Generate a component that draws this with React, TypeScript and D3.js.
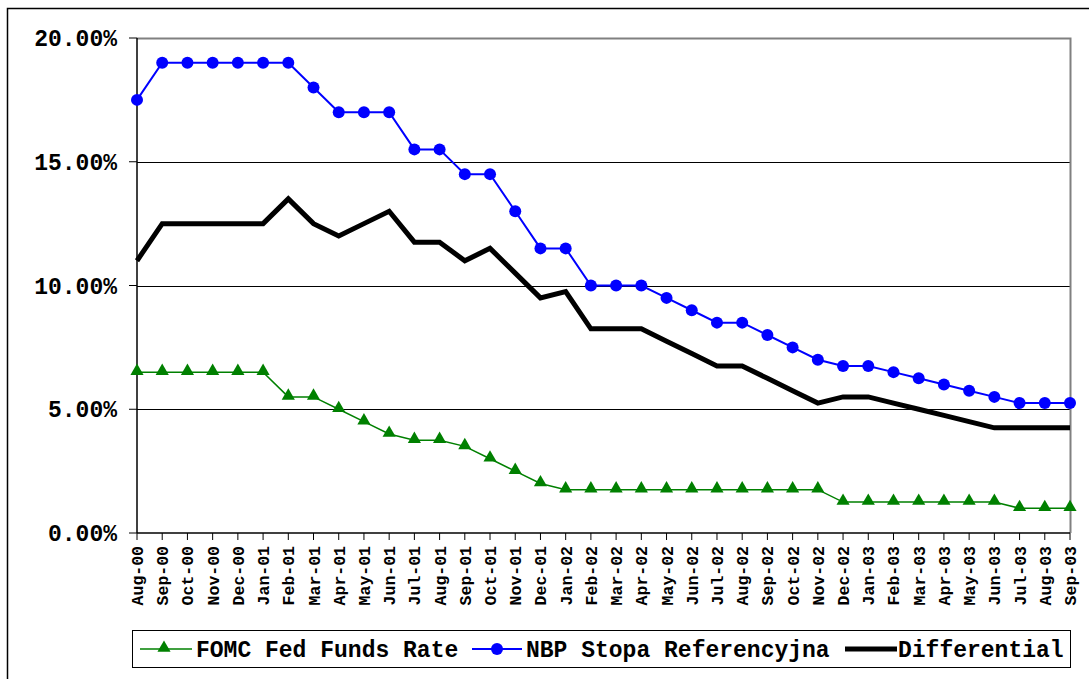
import * as d3 from "d3";

const months = [
  "Aug-00", "Sep-00", "Oct-00", "Nov-00", "Dec-00",
  "Jan-01", "Feb-01", "Mar-01", "Apr-01", "May-01", "Jun-01", "Jul-01", "Aug-01", "Sep-01", "Oct-01", "Nov-01", "Dec-01",
  "Jan-02", "Feb-02", "Mar-02", "Apr-02", "May-02", "Jun-02", "Jul-02", "Aug-02", "Sep-02", "Oct-02", "Nov-02", "Dec-02",
  "Jan-03", "Feb-03", "Mar-03", "Apr-03", "May-03", "Jun-03", "Jul-03", "Aug-03", "Sep-03",
];

const fomc = [
  6.5, 6.5, 6.5, 6.5, 6.5,
  6.5, 5.5, 5.5, 5.0, 4.5, 4.0, 3.75, 3.75, 3.5, 3.0, 2.5, 2.0,
  1.75, 1.75, 1.75, 1.75, 1.75, 1.75, 1.75, 1.75, 1.75, 1.75, 1.75, 1.25,
  1.25, 1.25, 1.25, 1.25, 1.25, 1.25, 1.0, 1.0, 1.0,
];

const nbp = [
  17.5, 19, 19, 19, 19,
  19, 19, 18, 17, 17, 17, 15.5, 15.5, 14.5, 14.5, 13, 11.5,
  11.5, 10, 10, 10, 9.5, 9, 8.5, 8.5, 8, 7.5, 7, 6.75,
  6.75, 6.5, 6.25, 6, 5.75, 5.5, 5.25, 5.25, 5.25,
];

const differential = [
  11, 12.5, 12.5, 12.5, 12.5,
  12.5, 13.5, 12.5, 12, 12.5, 13, 11.75, 11.75, 11, 11.5, 10.5, 9.5,
  9.75, 8.25, 8.25, 8.25, 7.75, 7.25, 6.75, 6.75, 6.25, 5.75, 5.25, 5.5,
  5.5, 5.25, 5.0, 4.75, 4.5, 4.25, 4.25, 4.25, 4.25,
];

const yTicks = [0, 5, 10, 15, 20];

const W = 1089;
const H = 679;
const plot = { left: 137, right: 1070, top: 38, bottom: 533 };
const font = "'Liberation Mono', 'Courier New', monospace";

const triangle = d3.symbol().type(d3.symbolTriangle).size(75)()!;

export default function App() {
  const x = d3.scalePoint<string>().domain(months).range([plot.left, plot.right]);
  const y = d3.scaleLinear().domain([0, 20]).range([plot.bottom, plot.top]);

  const line = (vals: number[]) =>
    d3.line<number>()
      .x((_, i) => x(months[i])!)
      .y((v) => y(v))(vals)!;

  return (
    <svg width={W} height={H} style={{ position: "absolute", left: 0, top: 0, background: "#fff" }}>
      <rect x={7.5} y={8.5} width={1200} height={800} fill="#fff" stroke="#000" strokeWidth={1.5} />

      {/* grid lines */}
      {yTicks.filter((t) => t > 0 && t < 20).map((t) => (
        <line key={t} x1={plot.left} x2={plot.right} y1={Math.round(y(t)) + 0.5} y2={Math.round(y(t)) + 0.5} stroke="#000" strokeWidth={1} />
      ))}
      {/* plot frame top/right */}
      <path d={`M${plot.left},${plot.top + 0.5}H${plot.right + 0.5}V${plot.bottom}`} fill="none" stroke="#808080" strokeWidth={2} />

      {/* y axis */}
      <line x1={plot.left} x2={plot.left} y1={plot.top} y2={plot.bottom} stroke="#000" strokeWidth={1.5} />
      {yTicks.map((t) => (
        <g key={t}>
          <line x1={plot.left - 8} x2={plot.left} y1={y(t)} y2={y(t)} stroke="#000" strokeWidth={1} />
          <text x={117} y={y(t)} dy="0.35em" textAnchor="end" fontFamily={font} fontWeight="bold" fontSize={23}>
            {t.toFixed(2)}%
          </text>
        </g>
      ))}

      {/* x axis */}
      <line x1={plot.left} x2={plot.right} y1={plot.bottom} y2={plot.bottom} stroke="#000" strokeWidth={1.5} />
      {months.map((m) => (
        <g key={m}>
          <line x1={x(m)} x2={x(m)} y1={plot.bottom} y2={plot.bottom + 7} stroke="#000" strokeWidth={1} />
          <text
            transform={`translate(${x(m)! + 6},${plot.bottom + 13}) rotate(-90)`}
            textAnchor="end"
            fontFamily={font}
            fontWeight="bold"
            fontSize={16.5}
          >
            {m}
          </text>
        </g>
      ))}

      {/* series */}
      <path d={line(fomc)} fill="none" stroke="#008000" strokeWidth={1.5} />
      {fomc.map((v, i) => (
        <path key={i} d={triangle} transform={`translate(${x(months[i])},${y(v) - 1})`} fill="#008000" />
      ))}
      <path d={line(nbp)} fill="none" stroke="#0000ff" strokeWidth={2} />
      {nbp.map((v, i) => (
        <circle key={i} cx={x(months[i])} cy={y(v)} r={6} fill="#0000ff" />
      ))}
      <path d={line(differential)} fill="none" stroke="#000" strokeWidth={5} strokeLinejoin="miter" />

      {/* legend */}
      <rect x={132.5} y={630.5} width={938} height={37} fill="#fff" stroke="#000" strokeWidth={1} />
      <g fontFamily={font} fontWeight="bold" fontSize={23}>
        <line x1={140} x2={192} y1={649} y2={649} stroke="#008000" strokeWidth={1.5} />
        <path d={triangle} transform="translate(164,648)" fill="#008000" />
        <text x={196} y={649} dy="0.35em">FOMC Fed Funds Rate</text>
        <line x1={472} x2={522} y1={649} y2={649} stroke="#0000ff" strokeWidth={2} />
        <circle cx={497} cy={649} r={6} fill="#0000ff" />
        <text x={526} y={649} dy="0.35em">NBP Stopa Referencyjna</text>
        <line x1={845} x2={897} y1={649} y2={649} stroke="#000" strokeWidth={5} />
        <text x={898} y={649} dy="0.35em">Differential</text>
      </g>
    </svg>
  );
}
